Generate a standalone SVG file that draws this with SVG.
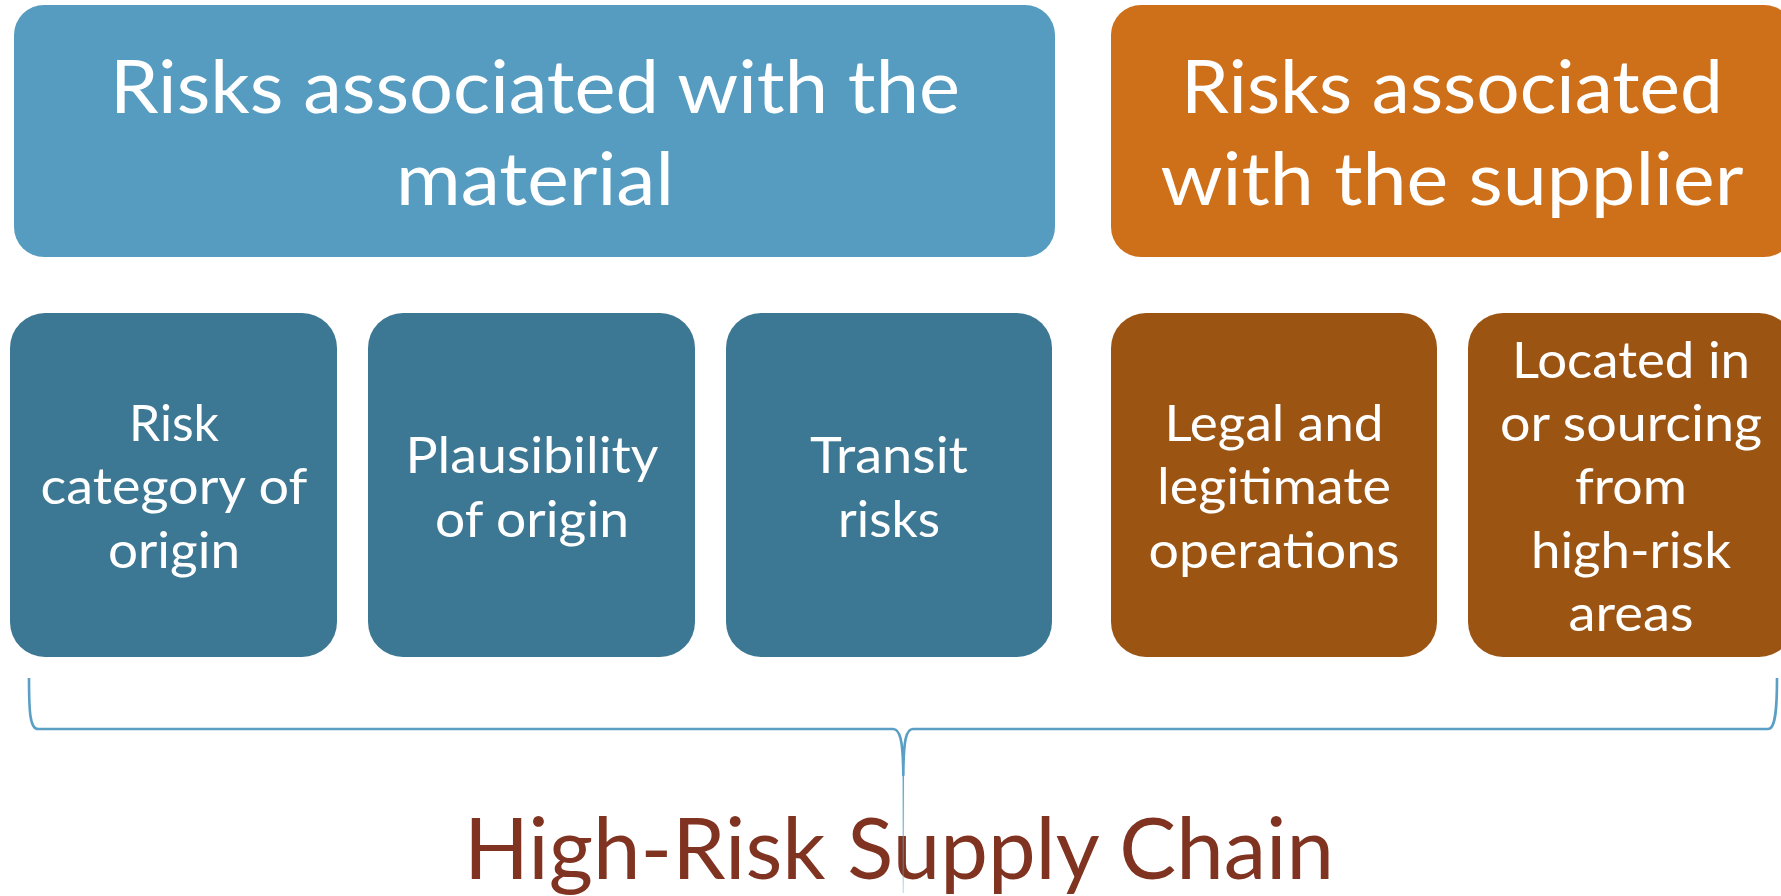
<svg xmlns="http://www.w3.org/2000/svg" width="1781" height="896" viewBox="0 0 1781 896">
<defs>
<style>
.hdr-blue{fill:#559CC0}
.hdr-orange{fill:#CE6F19}
.sub-blue{fill:#3C7793}
.sub-orange{fill:#9C5413}
text{font-family:"Lato","Open Sans","Liberation Sans",sans-serif;fill:#FFFFFF;text-anchor:middle}
.big{font-size:73px}
.small{font-size:51px}
.title{font-size:85px;fill:#7F3320}
.brace{fill:none;stroke:#5B9FC4;stroke-width:2.6;stroke-linejoin:round}
</style>
<linearGradient id="tailfade" gradientUnits="userSpaceOnUse" x1="0" y1="766" x2="0" y2="893">
<stop offset="0" stop-color="#5B9FC4" stop-opacity="1"/>
<stop offset="1" stop-color="#5B9FC4" stop-opacity="0.3"/>
</linearGradient>
</defs>
<rect width="1781" height="896" fill="#FFFFFF"/>

<g id="node-material">
<rect class="hdr-blue" x="14" y="5" width="1041" height="252" rx="30" ry="30"/>
<text class="big" x="535" y="113" textLength="850" lengthAdjust="spacingAndGlyphs">Risks associated with the</text>
<text class="big" x="535" y="205" textLength="278" lengthAdjust="spacingAndGlyphs">material</text>
</g>

<g id="node-supplier">
<rect class="hdr-orange" x="1111" y="5" width="683" height="252" rx="30" ry="30"/>
<text class="big" x="1452" y="113" textLength="542" lengthAdjust="spacingAndGlyphs">Risks associated</text>
<text class="big" x="1452" y="205" textLength="583" lengthAdjust="spacingAndGlyphs">with the supplier</text>
</g>

<g id="node-risk-category">
<rect class="sub-blue" x="10" y="313" width="327" height="344" rx="35" ry="35"/>
<text class="small" x="174" y="441" textLength="90" lengthAdjust="spacingAndGlyphs">Risk</text>
<text class="small" x="174" y="504" textLength="267" lengthAdjust="spacingAndGlyphs">category of</text>
<text class="small" x="174" y="568" textLength="132" lengthAdjust="spacingAndGlyphs">origin</text>
</g>

<g id="node-plausibility">
<rect class="sub-blue" x="368" y="313" width="327" height="344" rx="35" ry="35"/>
<text class="small" x="532" y="473" textLength="253" lengthAdjust="spacingAndGlyphs">Plausibility</text>
<text class="small" x="532" y="537" textLength="194" lengthAdjust="spacingAndGlyphs">of origin</text>
</g>

<g id="node-transit">
<rect class="sub-blue" x="726" y="313" width="326" height="344" rx="35" ry="35"/>
<text class="small" x="889" y="473" textLength="158" lengthAdjust="spacingAndGlyphs">Transit</text>
<text class="small" x="889" y="537" textLength="102" lengthAdjust="spacingAndGlyphs">risks</text>
</g>

<g id="node-legal">
<rect class="sub-orange" x="1111" y="313" width="326" height="344" rx="35" ry="35"/>
<text class="small" x="1274" y="441" textLength="219" lengthAdjust="spacingAndGlyphs">Legal and</text>
<text class="small" x="1274" y="504" textLength="234" lengthAdjust="spacingAndGlyphs">legitimate</text>
<text class="small" x="1274" y="568" textLength="251" lengthAdjust="spacingAndGlyphs">operations</text>
</g>

<g id="node-located">
<rect class="sub-orange" x="1468" y="313" width="326" height="344" rx="35" ry="35"/>
<text class="small" x="1631" y="378" textLength="238" lengthAdjust="spacingAndGlyphs">Located in</text>
<text class="small" x="1631" y="441" textLength="262" lengthAdjust="spacingAndGlyphs">or sourcing</text>
<text class="small" x="1631" y="504" textLength="112" lengthAdjust="spacingAndGlyphs">from</text>
<text class="small" x="1631" y="568" textLength="200" lengthAdjust="spacingAndGlyphs">high-risk</text>
<text class="small" x="1631" y="631" textLength="125" lengthAdjust="spacingAndGlyphs">areas</text>
</g>

<g id="node-title">
<text class="title" x="899" y="879" textLength="870" lengthAdjust="spacingAndGlyphs">High-Risk Supply Chain</text>
</g>

<g id="connectors">
<path class="brace" d="M29,678 C29,712 30,729 38,729 L893,729 C900,729 903,740 903.3,775 C903.6,740 906,729 913,729 L1768,729 C1775,729 1777,712 1777,678"/>
<path d="M903.3,772 L903.3,893" fill="none" stroke="url(#tailfade)" stroke-width="1.5"/>
</g>
</svg>
